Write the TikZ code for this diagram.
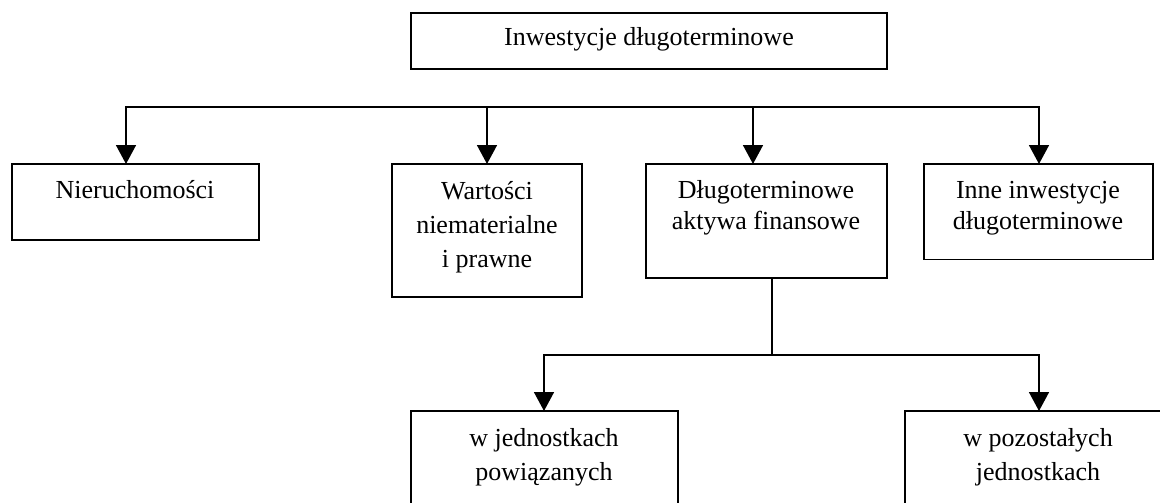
\documentclass[tikz,border=0pt]{standalone}
\usepackage{fontspec}
\setmainfont{Liberation Serif}
\usetikzlibrary{arrows.meta}
\begin{document}
\begin{tikzpicture}[x=1pt,y=-1pt,line width=1.6pt,line cap=rect,
  box/.style={draw,rectangle,inner sep=0pt,outer sep=0pt,anchor=north west},
  txt/.style={font=\fontsize{26}{34}\selectfont,align=center,inner sep=0pt,anchor=base},
  txtb/.style={font=\fontsize{26}{31}\selectfont,align=center,inner sep=0pt,anchor=base},
  arr/.style={-{Triangle[length=19pt,width=20pt]},line cap=butt}]
\useasboundingbox (0,0) rectangle (1160,503);
\clip (0,0) rectangle (1160,503);
% boxes
\node[box,minimum width=476pt,minimum height=56pt] (top) at (411,13) {};
\node[box,minimum width=247pt,minimum height=76pt] (n1) at (12,164) {};
\node[box,minimum width=190pt,minimum height=133pt] (n2) at (392,164) {};
\node[box,minimum width=241pt,minimum height=114pt] (n3) at (646,164) {};
\node[box,minimum width=229pt,minimum height=95.5pt] (n4) at (924,164) {};
\node[box,minimum width=267pt,minimum height=130pt] (n5) at (411,411) {};
\node[box,minimum width=267pt,minimum height=130pt] (n6) at (905,411) {};
% texts (anchor = baseline of the last line)
\node[txt] (t0) at (649,46) {Inwestycje długoterminowe};
\node[txt] (t1) at (135,198) {Nieruchomości};
\node[txt] (t2) at (487,267) {Wartości\\niematerialne\\i prawne};
\node[txtb] (t3) at (766,229) {Długoterminowe\\aktywa finansowe};
\node[txtb] (t4) at (1038,229) {Inne inwestycje\\długoterminowe};
\node[txt] (t5) at (544,480) {w jednostkach\\powiązanych};
\node[txt] (t6) at (1038,480) {w pozostałych\\jednostkach};
% upper bus
\coordinate (b1) at (126,107);
\coordinate (b2) at (487,107);
\coordinate (b3) at (753,107);
\coordinate (b4) at (1039,107);
\draw (b1) -- (b4);
\draw[arr] (b1) -- (b1 |- n1.north);
\draw[arr] (b2) -- (b2 |- n2.north);
\draw[arr] (b3) -- (b3 |- n3.north);
\draw[arr] (b4) -- (b4 |- n4.north);
% lower bus
\coordinate (j) at (772,355);
\coordinate (c5) at (544,355);
\coordinate (c6) at (1039,355);
\draw (j |- n3.south) -- (j);
\draw (c5) -- (c6);
\draw[arr] (c5) -- (c5 |- n5.north);
\draw[arr] (c6) -- (c6 |- n6.north);
\end{tikzpicture}
\end{document}
